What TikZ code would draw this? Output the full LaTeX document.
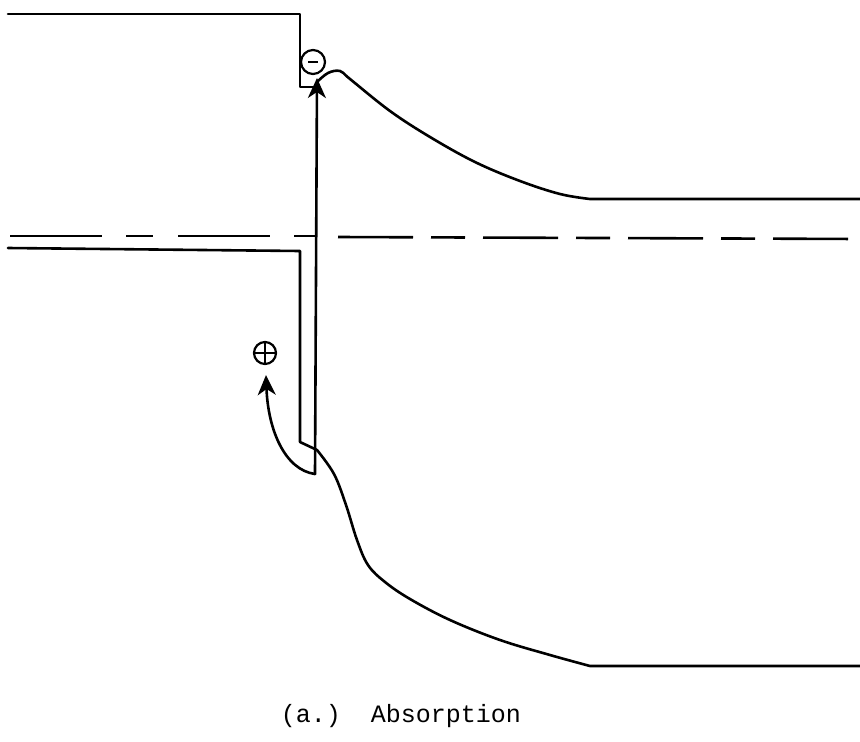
\documentclass[tikz,border=0pt]{standalone}
\usepackage{fontspec}
\newfontfamily\capfont{Liberation Mono}
\usetikzlibrary{arrows.meta}
\begin{document}
\begin{tikzpicture}[x=1pt,y=-1pt,
  band/.style={line width=2.6pt, line join=round, line cap=round},
  fermi/.style={line width=2.6pt},
  carrier/.style={draw, circle, line width=2.2pt, minimum size=24pt, inner sep=0pt},
  tip/.style={-{Stealth[length=20pt,width=18pt,inset=6pt]}}]
\useasboundingbox (0,0) rectangle (860,742);
% conduction band
\draw[band] (8,14) -- (300,14) -- (300,87) -- (315,87);
\draw[band] plot[smooth, tension=0.6] coordinates {(317,82) (328,73) (340,71) (350,79) (390,111) (430,137) (475,162) (520,181) (560,194) (590,199)} -- (860,199);
% Fermi level
\draw[fermi, dash pattern=on 92pt off 24pt on 27pt off 25pt] (10,236) -- (316,236);
\draw[fermi, dash pattern=on 75pt off 18pt on 34pt off 18pt] (338,237) -- (860,239);
% valence band
\draw[band] (8,248) -- (300,251) -- (300,442) -- (317,450);
\draw[band] plot[smooth, tension=0.6] coordinates {(317,450) (334,474) (346,505) (357,540) (368,565) (385,582) (410,599) (450,620) (500,640) (550,655) (590,666)} -- (860,666);
% junction
\coordinate (bot) at (315,474);
\coordinate (etop) at (317,78);
\draw[band, tip] (bot) -- (etop);
% electron
\node[carrier] (el) at (313,62) {};
\draw[line width=2.2pt] ([xshift=-5pt]el.center) -- ([xshift=5pt]el.center);
% hole
\node[carrier, minimum size=22pt] (ho) at (265,353) {};
\draw[line width=2pt] (ho.north) -- (ho.south) (ho.west) -- (ho.east);
\coordinate (htip) at (266,375);
\draw[band, tip] (bot) .. controls (285,470) and (268,430) .. (htip);
% caption
\node[font=\capfont\fontsize{25}{28}\selectfont, anchor=base] (cap) at (401,722) {(a.)\ \ Absorption};
\end{tikzpicture}
\end{document}
